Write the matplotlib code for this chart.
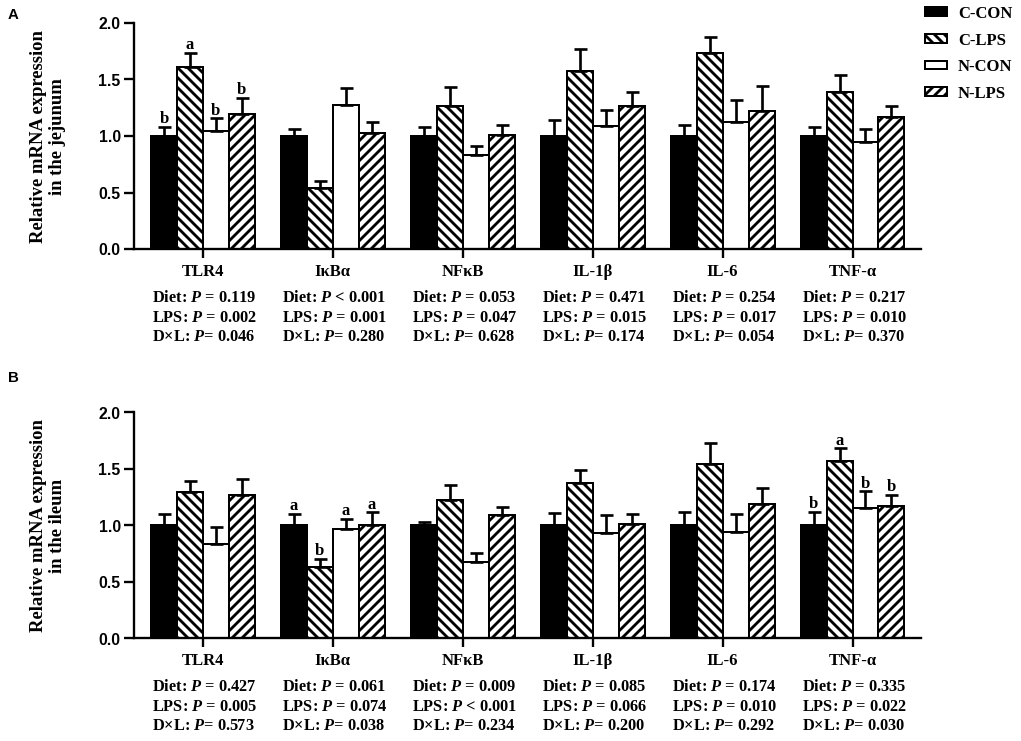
import numpy as np
import matplotlib
matplotlib.use('Agg')
import matplotlib.pyplot as plt

# categories and groups
genes = ['TLR4', 'IκBα', 'NFκB', 'IL-1β', 'IL-6', 'TNF-α']
groups = ['C-CON', 'C-LPS', 'N-CON', 'N-LPS']

# jejunum (panel A) means and SEM
jej_ccon = [1.00, 1.00, 1.00, 1.00, 1.00, 1.00]
jej_ccon_err = [0.08, 0.06, 0.08, 0.14, 0.10, 0.08]
jej_clps = [1.61, 0.54, 1.265, 1.577, 1.738, 1.393]
jej_clps_err = [0.127, 0.06, 0.17, 0.19, 0.14, 0.15]
jej_ncon = [1.046, 1.277, 0.832, 1.09, 1.128, 0.946]
jej_ncon_err = [0.11, 0.15, 0.08, 0.14, 0.19, 0.12]
jej_nlps = [1.196, 1.026, 1.005, 1.261, 1.225, 1.164]
jej_nlps_err = [0.14, 0.10, 0.095, 0.13, 0.22, 0.10]

# ileum (panel B) means and SEM
ile_ccon = [1.00, 1.00, 1.00, 1.00, 1.00, 1.00]
ile_ccon_err = [0.10, 0.10, 0.03, 0.11, 0.115, 0.12]
ile_clps = [1.295, 0.634, 1.224, 1.372, 1.545, 1.572]
ile_clps_err = [0.10, 0.07, 0.13, 0.12, 0.18, 0.11]
ile_ncon = [0.832, 0.97, 0.672, 0.929, 0.938, 1.15]
ile_ncon_err = [0.155, 0.085, 0.08, 0.165, 0.16, 0.15]
ile_nlps = [1.268, 1.005, 1.094, 1.011, 1.191, 1.171]
ile_nlps_err = [0.14, 0.11, 0.07, 0.09, 0.135, 0.10]

# significance letters {gene index: letters per group}
jej_letters = {0: ['b', 'a', 'b', 'b']}
ile_letters = {1: ['a', 'b', 'a', 'a'], 5: ['b', 'a', 'b', 'b']}

# P values
jej_p_diet = ['= 0.119', '< 0.001', '= 0.053', '= 0.471', '= 0.254', '= 0.217']
jej_p_lps = ['= 0.002', '= 0.001', '= 0.047', '= 0.015', '= 0.017', '= 0.010']
jej_p_dxl = ['= 0.046', '= 0.280', '= 0.628', '= 0.174', '= 0.054', '= 0.370']
ile_p_diet = ['= 0.427', '= 0.061', '= 0.009', '= 0.085', '= 0.174', '= 0.335']
ile_p_lps = ['= 0.005', '= 0.074', '< 0.001', '= 0.066', '= 0.010', '= 0.022']
ile_p_dxl = ['= 0.573', '= 0.038', '= 0.234', '= 0.200', '= 0.292', '= 0.030']

plt.rcParams['font.family'] = 'Liberation Serif'
plt.rcParams['font.weight'] = 'bold'
plt.rcParams['mathtext.fontset'] = 'custom'
plt.rcParams['mathtext.rm'] = 'Liberation Serif:bold'
plt.rcParams['mathtext.it'] = 'Liberation Serif:italic:bold'
plt.rcParams['mathtext.bf'] = 'Liberation Serif:bold'
plt.rcParams['hatch.linewidth'] = 1.7
plt.rcParams['hatch.color'] = 'black'

DPI = 120
fig = plt.figure(figsize=(1021.4 / DPI, 741.4 / DPI), dpi=DPI)

styles = [dict(color='black', hatch=None),
          dict(color='white', hatch='\\\\\\\\'),
          dict(color='white', hatch=None),
          dict(color='white', hatch='////')]
offsets = [-0.3, -0.1, 0.1, 0.3]
x = np.arange(len(genes))


def panel(rect, vals, errs, letters, pd, pl, px, ylab):
    ax = fig.add_axes(rect)
    bars = []
    for i in range(4):
        b = ax.bar(x + offsets[i], vals[i], 0.2, color=styles[i]['color'],
                   edgecolor='black', linewidth=1.2, hatch=styles[i]['hatch'],
                   label=groups[i], zorder=2)
        bars.append(b)
        ax.errorbar(x + offsets[i], vals[i], yerr=[np.zeros(len(x)), errs[i]],
                    fmt='none', ecolor='black', elinewidth=1.6, capsize=3.9,
                    capthick=1.6, zorder=3)
    for g, labs in letters.items():
        for i in range(4):
            ax.text(g + offsets[i], vals[i][g] + errs[i][g] + 0.035, labs[i],
                    ha='center', va='baseline', fontsize=10)
    ax.set_xlim(-0.53, 5.53)
    ax.set_ylim(0, 2.0)
    ax.set_yticks([0, 0.5, 1.0, 1.5, 2.0])
    ax.set_yticklabels(['0.0', '0.5', '1.0', '1.5', '2.0'],
                       fontfamily='Liberation Sans', fontweight='bold', fontsize=9.5)
    ax.set_xticks(x)
    ax.set_xticklabels([])
    ax.spines['top'].set_visible(False)
    ax.spines['right'].set_visible(False)
    ax.spines['left'].set_linewidth(1.4)
    ax.spines['bottom'].set_linewidth(1.4)
    ax.tick_params(axis='y', length=6, width=1.4, pad=2)
    ax.tick_params(axis='x', length=5.5, width=1.4)
    for j, gname in enumerate(genes):
        ax.text(j, -0.2, gname, ha='center', va='center', fontsize=10, clip_on=False)
        ax.text(j - 0.39, -0.43, 'Diet: $P$ ' + pd[j], ha='left', va='center',
                fontsize=9.8, clip_on=False)
        ax.text(j - 0.39, -0.605, 'LPS: $P$ ' + pl[j], ha='left', va='center',
                fontsize=9.8, clip_on=False)
        ax.text(j - 0.39, -0.775, 'D×L: $P$' + px[j], ha='left', va='center',
                fontsize=9.8, clip_on=False)
    cy = rect[1] + rect[3] / 2
    fig.text(48 / 1021, cy, ylab, rotation=90, ha='center', va='center',
             multialignment='center', fontsize=11.2, linespacing=1.1)
    return ax, bars


axA, barsA = panel([134 / 1021, 1 - 249.3 / 741, 787 / 1021, 226 / 741],
                   [jej_ccon, jej_clps, jej_ncon, jej_nlps],
                   [jej_ccon_err, jej_clps_err, jej_ncon_err, jej_nlps_err],
                   jej_letters, jej_p_diet, jej_p_lps, jej_p_dxl,
                   'Relative mRNA expression\nin the jejunum')
axB, barsB = panel([134 / 1021, 1 - 638.3 / 741, 787 / 1021, 226 / 741],
                   [ile_ccon, ile_clps, ile_ncon, ile_nlps],
                   [ile_ccon_err, ile_clps_err, ile_ncon_err, ile_nlps_err],
                   ile_letters, ile_p_diet, ile_p_lps, ile_p_dxl,
                   'Relative mRNA expression\nin the ileum')

fig.text(8 / 1021, 1 - 14.5 / 741, 'A', fontfamily='Liberation Sans', fontweight='bold',
         fontsize=9, ha='left', va='center')
fig.text(8 / 1021, 1 - 377.5 / 741, 'B', fontfamily='Liberation Sans', fontweight='bold',
         fontsize=9, ha='left', va='center')

fig.legend(handles=barsA, labels=groups, loc='upper left',
           bbox_to_anchor=(925 / 1021, 1 - 6 / 741), frameon=False, fontsize=10,
           handlelength=1.3, handleheight=0.4, handletextpad=0.65,
           labelspacing=0.64, borderpad=0, borderaxespad=0)

fig.savefig('out.png', dpi=DPI)
